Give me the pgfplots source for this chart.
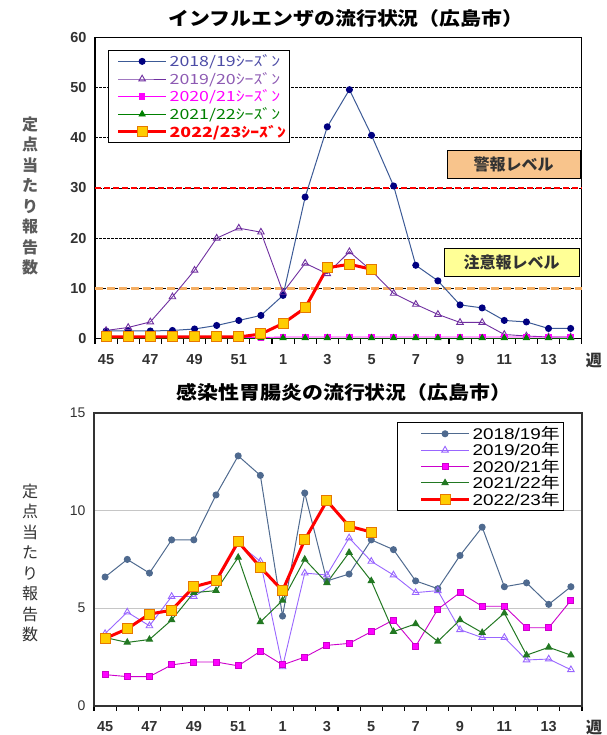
\documentclass[border=0pt]{standalone}
\usepackage{fontspec}
\setmainfont{Liberation Sans}
\newfontfamily\cjk{Noto Sans CJK JP}
\usepackage{pgfplots}
\pgfplotsset{compat=1.18}
\usepackage{pgfplotstable}

\definecolor{navyA}{RGB}{0,0,128}
\definecolor{navyL}{RGB}{60,90,150}
\definecolor{purA}{RGB}{112,48,160}
\definecolor{magA}{RGB}{255,0,255}
\definecolor{grnA}{RGB}{0,128,0}
\definecolor{redA}{RGB}{255,0,0}
\definecolor{yelA}{RGB}{255,204,0}
\definecolor{orgA}{RGB}{230,120,0}
\definecolor{bluB}{RGB}{79,106,143}
\definecolor{purB}{RGB}{153,102,255}
\definecolor{magB}{RGB}{204,0,204}
\definecolor{grnB}{RGB}{34,120,34}
\definecolor{alertO}{RGB}{248,196,140}
\definecolor{alertY}{RGB}{255,255,150}
\definecolor{lvlO}{RGB}{245,175,100}
\definecolor{txtG}{RGB}{50,50,50}

\pgfplotstableread{
x a b c d e
0 1.5 1.6 0.2 0.1 0.3
1 1.5 2.2 0.2 0.1 0.3
2 1.5 3.3 0.2 0.1 0.3
3 1.6 8.3 0.2 0.1 0.3
4 1.9 13.6 0.2 0.1 0.3
5 2.6 20.0 0.2 0.1 0.3
6 3.6 22.0 0.2 0.1 0.3
7 4.6 21.2 0.2 0.1 0.9
8 8.6 9.2 0.3 0.1 3.0
9 28.2 15.0 0.3 0.1 6.1
10 42.2 12.9 0.3 0.1 14.1
11 49.6 17.3 0.3 0.1 14.8
12 40.5 13.5 0.3 0.1 13.8
13 30.4 9.0 0.3 0.1 nan
14 14.6 6.8 0.3 0.1 nan
15 11.5 4.8 0.3 0.1 nan
16 6.7 3.2 0.3 0.1 nan
17 6.1 3.2 0.3 0.1 nan
18 3.6 0.8 0.3 0.1 nan
19 3.3 0.5 0.3 0.1 nan
20 2.0 0.3 0.3 0.1 nan
21 2.0 0.3 0.3 0.1 nan
}\flu

\pgfplotstableread{
x a b c d e
0 6.6 3.7 1.6 3.5 3.45
1 7.5 4.8 1.5 3.25 3.95
2 6.8 4.1 1.5 3.4 4.7
3 8.5 5.6 2.1 4.4 4.9
4 8.5 5.6 2.25 5.8 6.1
5 10.8 6.3 2.25 5.9 6.4
6 12.8 8.3 2.05 7.6 8.4
7 11.8 7.4 2.8 4.3 7.1
8 4.6 2.0 2.1 5.4 5.9
9 10.9 6.8 2.5 7.5 8.5
10 6.4 6.7 3.1 6.3 10.5
11 6.75 8.6 3.2 7.85 9.2
12 8.5 7.4 3.8 6.4 8.9
13 8.0 6.7 4.4 3.8 nan
14 6.4 5.8 3.05 4.2 nan
15 6.0 5.9 4.95 3.3 nan
16 7.7 3.9 5.8 4.4 nan
17 9.15 3.5 5.1 3.75 nan
18 6.1 3.5 5.1 4.75 nan
19 6.3 2.35 4.0 2.6 nan
20 5.2 2.4 4.0 3.0 nan
21 6.1 1.85 5.4 2.6 nan
}\gastro

\pgfplotsset{
  common/.style={
    scale only axis,
    clip=false,
    xmin=-0.5, xmax=21.5,
    xtick={-0.5,0.5,...,21.5},
    xticklabels={},
    extra x ticks={0,2,...,20},
    extra x tick labels={45,47,49,51,1,3,5,7,9,11,13},
    extra x tick style={major tick length=0pt, xticklabel style={yshift=-12pt}},
    major tick length=5pt,
    tick align=outside,
    xtick pos=bottom, ytick pos=left,
    ytick style={draw=none},
    axis line style={line width=1.3pt},
    xtick style={black, line width=1.1pt},
    /pgf/number format/assume math mode=true,
    legend cell align=left,
  },
}

\begin{document}
\begin{tikzpicture}
\path[use as bounding box] (0,0) rectangle (606pt,-735pt);

% ---------- Top chart ----------
\node[font=\cjk\bfseries\fontsize{18.5}{20}\selectfont] at (346pt,-18pt) {\scalebox{1.13}[1]{インフルエンザの流行状況（広島市）}};
\node[font=\cjk\bfseries\fontsize{16}{20.5}\selectfont, text=txtG!80, align=center, inner sep=0] at (30pt,-196pt) {定\\点\\当\\た\\り\\報\\告\\数};

\begin{axis}[common,
  at={(95pt,-338.5pt)}, anchor=south west,
  width=486.7pt, height=301pt,
  ymin=0, ymax=60, ytick={0,10,...,60},
  ymajorgrids,
  major grid style={black, line width=0.9pt, dash pattern=on 2.5pt off 1.5pt},
  yticklabel style={font=\bfseries\fontsize{14.5}{16}\selectfont, text=txtG},
  xticklabel style={font=\bfseries\fontsize{14.5}{16}\selectfont, text=txtG},
  legend style={at={(0.027,0.958)}, anchor=north west, draw=black, line width=1pt,
    font=\cjk\fontsize{14}{15}\selectfont, row sep=0.2pt, inner sep=2pt},
  legend image code/.code={\path (0pt,0pt); \draw[mark repeat=2,mark phase=2,#1] plot coordinates {(6pt,0pt)(30pt,0pt)(54pt,0pt)};},
]
\addplot[lvlO, line width=2.6pt, dash pattern=on 8pt off 4pt, forget plot] coordinates {(-0.5,10) (21.5,10)};
\addplot[redA, line width=2.2pt, dash pattern=on 6pt off 3pt, forget plot] coordinates {(-0.5,30) (21.5,30)};

\addplot[navyL, line width=1pt, mark=*, mark size=3pt, mark options={fill=navyA, draw=navyA}] table[x=x,y=a]{\flu};
\addlegendentry{\scalebox{1.27}[1]{\textcolor{navyA!70!white}{2018/19ｼｰｽﾞﾝ}}}
\addplot[purA, line width=0.9pt, mark=triangle, mark size=3.8pt, mark options={draw=purA, fill=white}] table[x=x,y=b]{\flu};
\addlegendentry{\scalebox{1.27}[1]{\textcolor{purA!80!white}{2019/20ｼｰｽﾞﾝ}}}
\addplot[magA, line width=0.9pt, mark=square*, mark size=2.8pt, mark options={fill=magA}] table[x=x,y=c]{\flu};
\addlegendentry{\scalebox{1.27}[1]{\textcolor{magA}{2020/21ｼｰｽﾞﾝ}}}
\addplot[grnA, line width=0.9pt, mark=triangle*, mark size=3.5pt, mark options={fill=grnA}] table[x=x,y=d]{\flu};
\addlegendentry{\scalebox{1.27}[1]{\textcolor{grnA}{2021/22ｼｰｽﾞﾝ}}}
\addplot[redA, line width=3pt, mark=square*, mark size=5pt, mark options={fill=yelA, draw=orgA, line width=1pt}] table[x=x,y=e]{\flu};
\addlegendentry{\scalebox{1.27}[1]{\textcolor{redA}{\bfseries 2022/23ｼｰｽﾞﾝ}}}

\node[draw=black, line width=1pt, fill=alertO, minimum width=133pt, minimum height=28pt,
  font=\cjk\bfseries\fontsize{16}{18}\selectfont, text=txtG] at (axis cs:18.42,34.7) {警報レベル};
\node[draw=black, line width=1pt, fill=alertY, minimum width=135pt, minimum height=28pt,
  font=\cjk\bfseries\fontsize{16}{18}\selectfont, text=txtG] at (axis cs:18.33,15.2) {注意報レベル};
\node[anchor=north, font=\cjk\bfseries\fontsize{16}{18}\selectfont, text=txtG, inner sep=0pt] at ([yshift=-14.5pt]axis cs:22.05,0) {週};
\end{axis}

% ---------- Bottom chart ----------
\node[font=\cjk\bfseries\fontsize{18.5}{20}\selectfont] at (344pt,-392pt) {\scalebox{1.13}[1]{感染性胃腸炎の流行状況（広島市）}};
\node[font=\cjk\fontsize{16}{20.5}\selectfont, text=txtG, align=center, inner sep=0] at (30pt,-563pt) {定\\点\\当\\た\\り\\報\\告\\数};

\begin{axis}[common,
  at={(94pt,-705.9pt)}, anchor=south west,
  width=488pt, height=293pt,
  ymin=0, ymax=15, ytick={0,5,10,15},
  ymajorgrids,
  major grid style={gray!45, line width=1.2pt},
  axis line style={line width=1.3pt, black!80},
  xticklabel style={font=\bfseries\fontsize{14.5}{16}\selectfont, text=txtG},
  yticklabel style={font=\fontsize{14}{16}\selectfont, text=txtG},
  legend style={at={(0.621,0.969)}, anchor=north west, draw=black, line width=1pt,
    font=\fontsize{15.5}{15}\selectfont, row sep=-2.2pt, inner sep=2pt},
  legend image code/.code={\path (0pt,0pt); \draw[mark repeat=2,mark phase=2,#1] plot coordinates {(20pt,0pt)(44pt,0pt)(68pt,0pt)};},
]
\addplot[bluB, line width=1pt, mark=*, mark size=3pt, mark options={fill=bluB}] table[x=x,y=a]{\gastro};
\addlegendentry{\scalebox{1.22}[1]{2018/19{\cjk 年}}}
\addplot[purB, line width=0.9pt, mark=triangle, mark size=3.8pt, mark options={fill=white}] table[x=x,y=b]{\gastro};
\addlegendentry{\scalebox{1.22}[1]{2019/20{\cjk 年}}}
\addplot[magB, line width=0.9pt, mark=square*, mark size=3pt, mark options={fill=magA, draw=magB}] table[x=x,y=c]{\gastro};
\addlegendentry{\scalebox{1.22}[1]{2020/21{\cjk 年}}}
\addplot[grnB, line width=1pt, mark=triangle*, mark size=3.5pt, mark options={fill=grnB}] table[x=x,y=d]{\gastro};
\addlegendentry{\scalebox{1.22}[1]{2021/22{\cjk 年}}}
\addplot[redA, line width=3pt, mark=square*, mark size=5pt, mark options={fill=yelA, draw=orgA, line width=1pt}] table[x=x,y=e]{\gastro};
\addlegendentry{\scalebox{1.22}[1]{2022/23{\cjk 年}}}
\node[anchor=north, font=\cjk\bfseries\fontsize{16}{18}\selectfont, text=txtG, inner sep=0pt] at ([yshift=-14.5pt]axis cs:22.05,0) {週};
\end{axis}
\end{tikzpicture}
\end{document}
